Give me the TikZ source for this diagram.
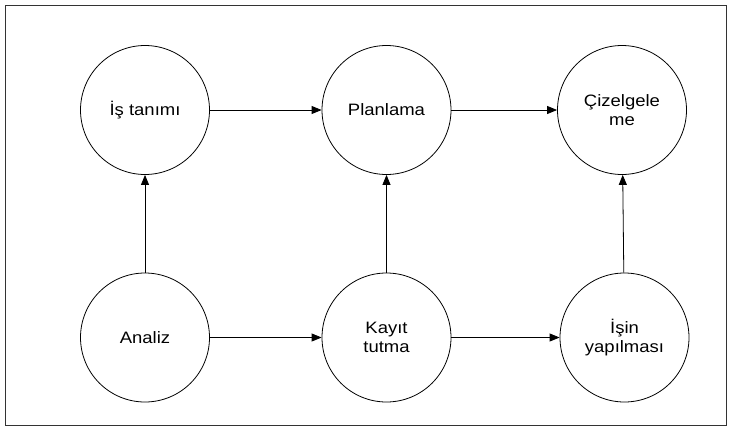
\documentclass[tikz,border=0pt]{standalone}
\usepackage{fontspec}
\setmainfont{Liberation Sans}[FakeStretch=1.12]
\usetikzlibrary{arrows.meta}
\begin{document}
\begin{tikzpicture}[x=1pt,y=-1pt,
  stage/.style={circle,draw=black,line width=0.8pt,minimum size=129pt,inner sep=0pt,
    align=center,font=\fontsize{16.5}{18.3}\selectfont},
  flow/.style={draw=black,line width=0.8pt,-{Triangle[length=10pt,width=8pt]}}]
\useasboundingbox (0,0) rectangle (729,426);
\node[draw=black!80,line width=1pt,minimum width=721pt,minimum height=420pt,inner sep=0pt,anchor=north west] (frame) at (4.5,4.5) {};
\node[stage] (is) at (145,110) {İş tanımı};
\node[stage] (plan) at (386.5,110) {Planlama};
\node[stage] (ciz) at (622,110) {Çizelgele\\me};
\node[stage] (analiz) at (145,337.5) {Analiz};
\node[stage] (kayit) at (386.5,337.5) {Kayıt\\tutma};
\node[stage] (isin) at (624.5,337.5) {İşin\\yapılması};
\draw[flow] (is) -- (plan);
\draw[flow] (plan) -- (ciz);
\draw[flow] (analiz) -- (kayit);
\draw[flow] (kayit) -- (isin);
\draw[flow] (analiz) -- (is);
\draw[flow] (kayit) -- (plan);
\draw[flow] (isin) -- (ciz);
\end{tikzpicture}
\end{document}
